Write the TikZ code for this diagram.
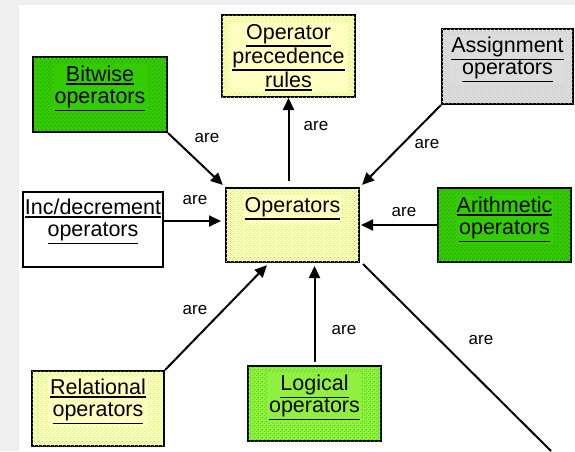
\documentclass[tikz,border=0pt]{standalone}
\usepackage{fontspec}
\setmainfont{Liberation Sans}
\usetikzlibrary{arrows.meta,patterns.meta}

\definecolor{paper}{HTML}{F0F0F0}
\definecolor{cream}{HTML}{FFFFC0}
\definecolor{limedot}{HTML}{99FF33}
\definecolor{leaf}{HTML}{33CC00}
\definecolor{leafdot}{HTML}{2E8F1E}
\definecolor{spring}{HTML}{90F040}
\definecolor{springdot}{HTML}{33CC00}
\definecolor{silver}{HTML}{DCDCDC}
\definecolor{silverdot}{HTML}{C4C4C4}

% underline hung below the text, like a hyperlink
\newcommand\ulx[1]{\leavevmode\vtop{\hbox{#1}\kern1.4pt\hrule height 1.7pt}}

% staggered speckle texture
\tikzdeclarepattern{
  name=speckdots, type=uncolored,
  bottom left={(0pt,0pt)}, top right={(4pt,4pt)}, tile size={(4pt,4pt)},
  code={
    \pgfpathcircle{\pgfqpoint{1pt}{1pt}}{0.75pt}
    \pgfpathcircle{\pgfqpoint{3pt}{3pt}}{0.75pt}
    \pgfusepath{fill}
  }
}

\tikzset{
  concept/.style={draw=black, line width=2pt, inner sep=0pt,
                  minimum width=133pt, minimum height=75pt},
  speckle/.style 2 args={fill=#1, postaction={pattern=speckdots, pattern color=#2}},
  caption/.style={font=\fontsize{21.5}{22}\selectfont, align=center,
                  inner sep=2pt, anchor=north},
  link/.style={line width=2pt, -{Triangle[length=12pt,width=11pt]}},
  lbl/.style={font=\fontsize{17}{18}\selectfont, inner sep=0pt},
}

\begin{document}
\begin{tikzpicture}[x=1pt,y=-1pt]
  % canvas
  \fill[paper] (0,0) rectangle (575,451);
  \fill[white] (19,5) rectangle (575,451);
  \useasboundingbox (0,0) rectangle (575,451);

  % concept boxes
  \node[concept, speckle={cream}{limedot}, minimum height=82pt] (prec) at (288.5,56) {};
  \node[caption, fill=cream] (prec-t) at ([yshift=-8pt]prec.north)
       {\ulx{Operator}\\\ulx{precedence}\\\ulx{rules}};

  \node[concept, speckle={leaf}{leafdot}, minimum width=134pt] (bitwise) at (100,94.5) {};
  \node[caption, fill=leaf] (bitwise-t) at ([yshift=-8pt]bitwise.north)
       {\ulx{Bitwise}\\\ulx{operators}};

  \node[concept, speckle={silver}{silverdot}, minimum width=131pt] (assign) at (507.5,66.5) {};
  \node[caption, fill=silver] (assign-t) at ([yshift=-7pt]assign.north)
       {\ulx{Assignment}\\\ulx{operators}};

  \node[concept, fill=white, minimum width=140pt] (inc) at (93,229.5) {};
  \node[caption] (inc-t) at ([yshift=-6pt]inc.north)
       {\ulx{Inc/decrement}\\\ulx{operators}};

  \node[concept, speckle={cream}{limedot}, minimum height=74pt] (op) at (292.5,225) {};
  \node[caption, fill=cream] (op-t) at ([yshift=-8pt]op.north) {\ulx{Operators}};

  \node[concept, speckle={leaf}{leafdot}, minimum height=74pt] (arith) at (504.5,225) {};
  \node[caption, fill=leaf] (arith-t) at ([yshift=-8pt]arith.north)
       {\ulx{Arithmetic}\\\ulx{operators}};

  \node[concept, speckle={cream}{limedot}, minimum width=132pt] (rel) at (98,408.5) {};
  \node[caption, fill=cream] (rel-t) at ([yshift=-7pt]rel.north)
       {\ulx{Relational}\\\ulx{operators}};

  \node[concept, speckle={spring}{springdot}] (logical) at (314.5,403.5) {};
  \node[caption, fill=spring] (logical-t) at ([yshift=-8pt]logical.north)
       {\ulx{Logical}\\\ulx{operators}};

  % connectors
  \draw[link, shorten >=3pt] (bitwise.south east) -- (op.north west);
  \draw[link, shorten <=6pt] (op.north -| prec.south) -- (prec.south);
  \draw[link, shorten >=3pt] (assign.south west) -- (op.north east);
  \draw[link, shorten >=4pt] ([shift={(0,-8.5)}]inc.east) -- ([shift={(0,-8.5)}]inc.east -| op.west);
  \draw[link, shorten >=1pt] (arith.west) -- (arith.west -| op.east);
  \coordinate (rel-hit) at ([shift={(44,0)}]op.south west);
  \draw[link, shorten >=3pt] (rel.north east) -- (rel-hit);
  \draw[link, shorten <=3pt, shorten >=3pt] (logical.north) -- (logical.north |- op.south);
  \coordinate (away) at (551,451);
  \draw[line width=2pt] ([shift={(3,1)}]op.south east) -- (away);

  % connector labels
  \node[lbl] (are-bitwise) at (207,138) {are};
  \node[lbl] (are-prec)    at (316,126) {are};
  \node[lbl] (are-assign)  at (427,144) {are};
  \node[lbl] (are-inc)     at (195,200) {are};
  \node[lbl] (are-arith)   at (404,212) {are};
  \node[lbl] (are-rel)     at (195,310) {are};
  \node[lbl] (are-logical) at (344,330) {are};
  \node[lbl] (are-away)    at (481,340) {are};
\end{tikzpicture}
\end{document}
